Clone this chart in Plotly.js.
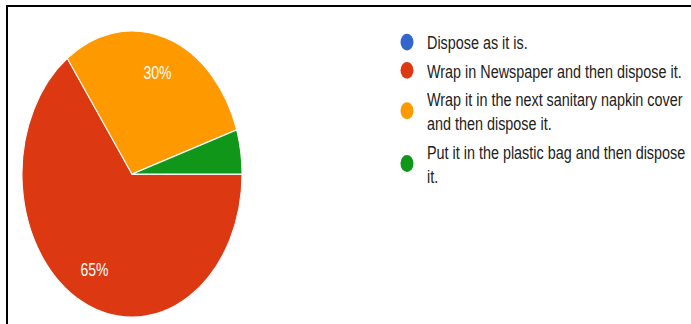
<!DOCTYPE html>
<html>
<head>
<meta charset="utf-8">
<script src="https://cdn.plot.ly/plotly-3.0.1.min.js"></script>
<style>
  html, body { margin: 0; padding: 0; background: #fff; overflow: hidden; }
  #wrap { position: absolute; left: 0; top: 0; width: 691px; height: 249px;
          transform: scaleY(1.3012); transform-origin: 0 0; }
  #chart { width: 691px; height: 249px; }
  .bt { position: absolute; left: 6px; top: 5px; width: 685px; height: 2px; background: #000; }
  .bl { position: absolute; left: 6px; top: 5px; width: 2px; height: 319px; background: #000; }
</style>
</head>
<body>
<div id="wrap"><div id="chart"></div></div>
<div class="bt"></div>
<div class="bl"></div>
<script>
// Data
const categories = [
  "Dispose as it is.",
  "Wrap in Newspaper and then dispose it.",
  "Wrap it in the next sanitary napkin cover<br>and then dispose it.",
  "Put it in the plastic bag and then dispose<br>it."
];
const percentages = [0, 65, 30, 5];
const colors = ["#3366cc", "#dc3912", "#ff9900", "#109618"];

const sliceText = percentages.map(v => (v >= 10 ? v + "%" : ""));
const pieDomain = { x: [22 / 691, 242 / 691], y: [5.2 / 249, 225.2 / 249] };

const traces = [{
  type: "pie",
  labels: categories,
  values: percentages,
  textinfo: "none",
  marker: { colors: colors, line: { color: "#ffffff", width: 1 } },
  sort: false,
  direction: "clockwise",
  rotation: 90,
  showlegend: false,
  hoverinfo: "none",
  domain: pieDomain
}, {
  // transparent ring carrying the percentage labels at ~3/4 of the radius
  type: "pie",
  labels: categories,
  values: percentages,
  text: sliceText,
  textinfo: "text",
  textposition: "inside",
  insidetextorientation: "horizontal",
  hole: 0.5,
  textfont: { family: "Liberation Sans, Arial, sans-serif", size: 14, color: "#ffffff" },
  marker: { colors: categories.map(() => "rgba(0,0,0,0)"), line: { width: 0 } },
  sort: false,
  direction: "clockwise",
  rotation: 90,
  showlegend: false,
  hoverinfo: "none",
  domain: pieDomain
}];

categories.forEach((c, i) => {
  traces.push({
    type: "scatter",
    mode: "markers",
    x: [null], y: [null],
    name: c,
    marker: { color: colors[i], size: 13, symbol: "circle" },
    showlegend: true,
    hoverinfo: "none"
  });
});

const layout = {
  width: 691,
  height: 249,
  margin: { l: 0, r: 0, t: 0, b: 0 },
  paper_bgcolor: "#ffffff",
  plot_bgcolor: "#ffffff",
  xaxis: { visible: false, domain: [0.9, 1] },
  yaxis: { visible: false },
  showlegend: true,
  legend: {
    x: 1, xanchor: "right",
    y: 1 - 16.5 / 249, yanchor: "top",
    bgcolor: "rgba(0,0,0,0)",
    font: { family: "Liberation Sans, Arial, sans-serif", size: 14.4, color: "#222222" },
    traceorder: "normal",
    tracegroupgap: 0
  }
};

Plotly.newPlot("chart", traces, layout, { displayModeBar: false, staticPlot: true });
</script>
</body>
</html>
